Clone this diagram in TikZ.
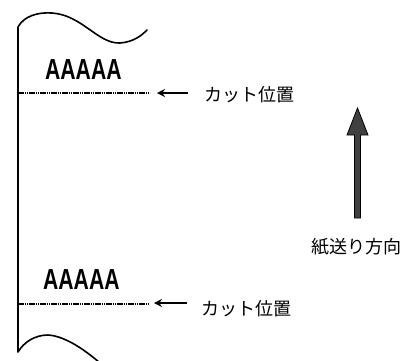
\documentclass[tikz,border=0pt]{standalone}
\usepackage{fontspec}
\setmainfont{Liberation Sans}
\newfontfamily\jpfont{Noto Sans CJK JP}
\usetikzlibrary{arrows.meta}
\tikzset{
  paper/.style={line width=1.6pt, line cap=round, line join=round},
  cutline/.style={line width=1.3pt, dash pattern=on 1.6pt off 0.6pt},
  smallarrow/.style={line width=1.8pt, -{Stealth[length=8pt,width=8pt]}},
  jplabel/.style={font=\jpfont\fontsize{18}{18}\selectfont, inner sep=0pt, anchor=west},
  printtext/.style={font=\bfseries\fontsize{29}{29}\selectfont, inner sep=0pt, anchor=west, xscale=0.73}
}
\begin{document}
\begin{tikzpicture}[x=1pt,y=-1pt]
\useasboundingbox (0,0) rectangle (412,360);
% paper edge
\draw[paper] (100,363) .. controls (85,350) and (65,336) .. (48,335)
  .. controls (35,335) and (24,342) .. (18,352) -- (18,27)
  .. controls (24,16) and (38,12) .. (52,13)
  .. controls (82,15) and (98,44) .. (120,43)
  .. controls (134,42) and (142,35) .. (147,30);
% printed text
\node[printtext] (t1) at (45,70) {AAAAA};
\node[printtext] (t2) at (43,280) {AAAAA};
% cut lines
\coordinate (c1l) at (18,93);
\coordinate (c1r) at (150,93);
\coordinate (c2l) at (18,304);
\coordinate (c2r) at (148,304);
\draw[cutline] (c1l) -- (c1r);
\draw[cutline] (c2l) -- (c2r);
% labels
\node[jplabel] (l1) at (204,95) {カット位置};
\node[jplabel] (l2) at (201,309) {カット位置};
\coordinate (a1s) at (188,93);
\coordinate (a1e) at (157,93);
\coordinate (a2s) at (187,303);
\coordinate (a2e) at (154,303);
\draw[smallarrow] (a1s) -- (a1e);
\draw[smallarrow] (a2s) -- (a2e);
% feed direction arrow
\node[jplabel] (feed) at (311,247) {紙送り方向};
\coordinate (fb) at (357,218);
\coordinate (ft) at (357,108);
\filldraw[fill=black!75, draw=black, line width=0.8pt]
  (354.5,218) -- (354.5,135) -- (347,135) -- (357.5,108) -- (368,135) -- (360.5,135) -- (360.5,218) -- cycle;
\end{tikzpicture}
\end{document}
